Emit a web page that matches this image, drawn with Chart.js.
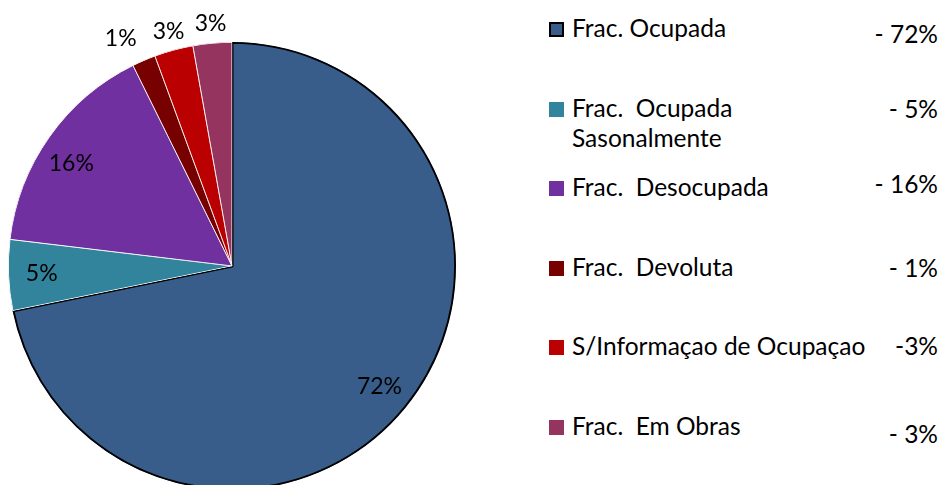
<!DOCTYPE html>
<html>
<head>
<meta charset="utf-8">
<script src="https://cdn.jsdelivr.net/npm/chart.js@4"></script>
<style>
  html, body { margin: 0; padding: 0; background: #fff; }
  body { width: 942px; height: 485px; overflow: hidden; position: relative; font-family: Lato, sans-serif; color: #000; }
  #pie { position: absolute; left: 0; top: 0; }
  .mark { position: absolute; left: 549px; width: 15px; height: 15px; box-sizing: border-box; }
  .name { position: absolute; left: 572px; font-size: 24.5px; line-height: 30px; white-space: pre; }
  .pct { position: absolute; right: 4px; font-size: 24.5px; line-height: 30px; white-space: pre; }
</style>
</head>
<body>
<canvas id="pie" width="464" height="532"></canvas>
<div id="legend"></div>
<script>
const categories = [
  "Frac. Ocupada",
  "Frac.  Ocupada\nSasonalmente",
  "Frac.  Desocupada",
  "Frac.  Devoluta",
  "S/Informaçao de Ocupaçao",
  "Frac.  Em Obras"
];
// slice sizes
const values = [71.8, 5.1, 15.8, 1.7, 2.8, 2.8];
// percentages as printed on the chart
const percents = [72, 5, 16, 1, 3, 3];
const legendValues = ["- 72%", "- 5%", "- 16%", "- 1%", "-3%", "- 3%"];
const colors = ["#385D8A", "#31849B", "#7030A0", "#770000", "#BA0000", "#963460"];

const pctLabels = {
  id: "pctLabels",
  afterDatasetsDraw(chart) {
    const ctx = chart.ctx;
    const meta = chart.getDatasetMeta(0);
    ctx.save();
    ctx.font = "23px Lato";
    ctx.fillStyle = "#000";
    ctx.textAlign = "center";
    ctx.textBaseline = "middle";
    meta.data.forEach(function (arc, i) {
      let mid = (arc.startAngle + arc.endAngle) / 2;
      let r = arc.outerRadius * 0.85;
      if (values[i] < 4) {
        r = arc.outerRadius + 19;
        // smallest slice label is pushed aside so it does not crowd the next one
        if (values[i] < 2) { r += 10; mid -= 0.05; }
      } else if (values[i] > 10 && values[i] < 20) {
        mid -= 0.05;
      }
      const x = arc.x + Math.cos(mid) * r;
      const y = arc.y + Math.sin(mid) * r;
      ctx.fillText(percents[i] + "%", x, y);
    });
    ctx.restore();
  }
};

const pie = new Chart(document.getElementById("pie").getContext("2d"), {
  type: "pie",
  data: {
    labels: categories,
    datasets: [
      {
        data: values,
        backgroundColor: colors,
        borderColor: ["#000", "#fff", "#fff", "#fff", "#fff", "#fff"],
        borderWidth: [1.5, 0.5, 0.5, 0.5, 0.5, 0.5],
        borderAlign: "inner",
      }
    ],
  },
  options: {
    responsive: false,
    animation: false,
    devicePixelRatio: 1,
    layout: { padding: { left: 8, right: 8, top: 42, bottom: 42 } },
    plugins: {
      legend: { display: false },
      tooltip: { enabled: false },
    }
  },
  plugins: [pctLabels],
});

// legend on the right
const legend = document.getElementById("legend");
const pctShift = [6, 1, -3, 1, 0, 8];
categories.forEach(function (name, i) {
  const top = 22 + i * 79.6;
  const mark = document.createElement("div");
  mark.className = "mark";
  mark.style.top = top + "px";
  mark.style.background = colors[i];
  if (i == 0) mark.style.border = "2px solid #000";
  legend.appendChild(mark);

  const text = document.createElement("div");
  text.className = "name";
  text.style.top = (top + 15.5 - 24.5) + "px";
  text.textContent = name;
  legend.appendChild(text);

  const pct = document.createElement("div");
  pct.className = "pct";
  pct.style.top = (top + 15.5 + pctShift[i] - 24.5) + "px";
  pct.textContent = legendValues[i];
  legend.appendChild(pct);
});
</script>
</body>
</html>
